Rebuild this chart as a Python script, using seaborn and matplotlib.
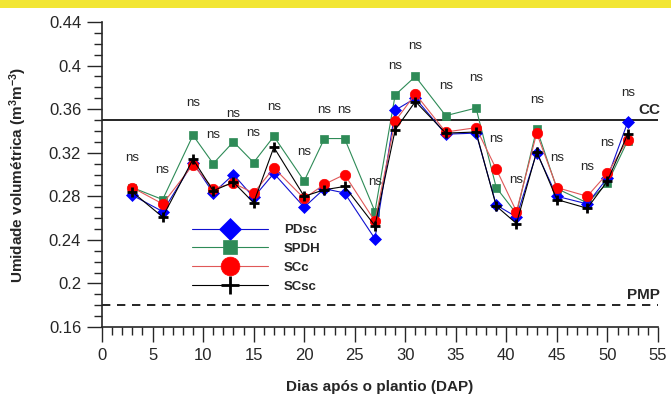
import matplotlib
matplotlib.use('Agg')
import matplotlib.pyplot as plt
import matplotlib.ticker as mticker
from matplotlib.patches import Rectangle
import seaborn as sns
import pandas as pd

# dias apos o plantio
dias = [3, 6, 9, 11, 13, 15, 17, 20, 22, 24, 27, 29, 31, 34, 37, 39, 41, 43, 45, 48, 50, 52]

# umidade volumetrica por tratamento
pdsc = [0.281, 0.266, 0.311, 0.283, 0.300, 0.279, 0.301, 0.270, 0.287, 0.283, 0.241,
        0.359, 0.370, 0.337, 0.338, 0.272, 0.261, 0.320, 0.280, 0.273, 0.297, 0.348]
spdh = [0.288, 0.277, 0.336, 0.310, 0.330, 0.311, 0.335, 0.294, 0.333, 0.333, 0.266,
        0.373, 0.390, 0.354, 0.361, 0.288, 0.264, 0.342, 0.287, 0.274, 0.292, 0.331]
scc = [0.288, 0.273, 0.309, 0.287, 0.292, 0.283, 0.306, 0.278, 0.291, 0.300, 0.257,
       0.349, 0.374, 0.339, 0.343, 0.305, 0.266, 0.338, 0.288, 0.280, 0.301, 0.332]
scsc = [0.284, 0.261, 0.314, 0.285, 0.293, 0.274, 0.325, 0.280, 0.286, 0.289, 0.253,
        0.341, 0.367, 0.338, 0.339, 0.271, 0.255, 0.321, 0.277, 0.269, 0.294, 0.337]

# altura dos rotulos "ns"
ns_y = [0.315, 0.304, 0.366, 0.336, 0.356, 0.338, 0.362, 0.321, 0.359, 0.359, 0.293,
        0.400, 0.418, 0.381, 0.389, 0.333, 0.295, 0.368, 0.315, 0.307, 0.329, 0.375]

cc = 0.35
pmp = 0.18

df = pd.DataFrame({'dias': dias, 'PDsc': pdsc, 'SPDH': spdh, 'SCc': scc, 'SCsc': scsc})

sns.set_style('ticks')
plt.rcParams['font.family'] = ['Liberation Sans', 'DejaVu Sans']
plt.rcParams['mathtext.default'] = 'regular'

fig = plt.figure(figsize=(6.71, 3.99), dpi=100)
fig.patches.append(Rectangle((0, 1 - 8 / 399), 1, 8 / 399, transform=fig.transFigure,
                             facecolor='#f2e634', edgecolor='none', zorder=0))
ax = fig.add_axes([102 / 671, 72 / 399, 556 / 671, 305 / 399])

# (coluna, marcador, cor da linha, cor do marcador, tamanho, largura da borda, zorder)
estilos = [
    ('PDsc', 'D', '#1010d0', '#0000ff', 6, 0.5, 3),
    ('SPDH', 's', '#2e8b57', '#2e8b57', 5.5, 0.5, 2),
    ('SCc', 'o', '#e05858', '#ff0000', 7.5, 0.5, 4),
    ('SCsc', '+', '#000000', '#000000', 7, 2.0, 5),
]
for col, mk, lc, mc, ms, mew, z in estilos:
    sns.lineplot(data=df, x='dias', y=col, ax=ax, color=lc, marker=mk, markersize=ms,
                 markerfacecolor=mc, markeredgecolor=mc, markeredgewidth=mew,
                 linewidth=0.8, label=col, zorder=z)

ax.axhline(cc, color='black', linewidth=1.2, zorder=1)
ax.axhline(pmp, color='black', linewidth=1.2, linestyle=(0, (5, 4)), zorder=1)
ax.text(55.2, cc + 0.003, 'CC', ha='right', va='bottom', fontsize=11, fontweight='bold')
ax.text(55.2, pmp + 0.003, 'PMP', ha='right', va='bottom', fontsize=11, fontweight='bold')

for d, y in zip(dias, ns_y):
    ax.text(d, y, 'ns', ha='center', va='center', fontsize=9.5)

ax.set_xlim(0, 55)
ax.set_ylim(0.16, 0.44)
ax.xaxis.set_major_locator(mticker.MultipleLocator(5))
ax.xaxis.set_minor_locator(mticker.MultipleLocator(1))
ax.yaxis.set_major_locator(mticker.MultipleLocator(0.04))
ax.yaxis.set_minor_locator(mticker.MultipleLocator(0.01))
ax.yaxis.set_major_formatter(mticker.FuncFormatter(lambda v, p: f'{v:g}'))
ax.tick_params(which='major', length=11, width=1, labelsize=12, direction='out', pad=4)
ax.tick_params(which='minor', length=6, width=1, direction='out')
for s in ['top', 'right']:
    ax.spines[s].set_visible(False)
for s in ['left', 'bottom']:
    ax.spines[s].set_linewidth(1.2)

ax.set_xlabel('Dias após o plantio (DAP)', fontsize=11, fontweight='bold', labelpad=12)
ax.set_ylabel('Umidade volumétrica (m$^{3}$m$^{-3}$)', fontsize=11, fontweight='bold', labelpad=14)

ax.legend(loc='upper left', bbox_to_anchor=(0.14, 0.377), frameon=False,
          prop={'weight': 'bold', 'size': 9.5}, markerscale=1.8, handlelength=5.8,
          labelspacing=0.5, handletextpad=1.2)

fig.savefig('out.png', dpi=100)
